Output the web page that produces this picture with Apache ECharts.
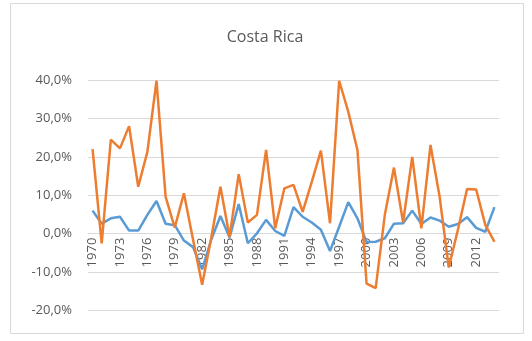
<!DOCTYPE html>
<html>
<head>
<meta charset="utf-8">
<script src="https://cdn.jsdelivr.net/npm/echarts@6/dist/echarts.min.js"></script>
<style>
  html, body { margin: 0; padding: 0; background: #fff; }
  #chart { width: 532px; height: 341px; }
</style>
</head>
<body>
<div id="chart"></div>
<script>
// Years on the category axis
const years = [];
for (let y = 1970; y <= 2014; y++) years.push(String(y));

// Annual rates (%), blue series
const blueValues = [
  6.0, 2.6, 4.0, 4.4, 0.8, 0.8, 4.9, 8.5, 2.6, 2.2,
  -1.8, -3.5, -9.3, -1.5, 4.6, -1.0, 7.7, -2.5, 0.1, 3.6,
  0.7, -0.6, 6.9, 4.4, 2.9, 1.0, -4.5, 1.8, 8.2, 4.0,
  -2.2, -2.1, -1.2, 2.6, 2.7, 6.0, 2.5, 4.2, 3.4, 1.8,
  2.5, 4.3, 1.5, 0.5, 6.9
];

// Annual rates (%), orange series
const orangeValues = [
  22.0, -2.5, 24.5, 22.2, 28.0, 12.2, 21.3, 39.8, 9.6, 1.6,
  10.5, -1.5, -13.3, -1.0, 12.2, -0.8, 15.5, 2.9, 4.9, 21.8,
  1.4, 11.8, 12.7, 5.7, 13.5, 21.6, 2.7, 39.8, 31.7, 21.8,
  -13.0, -14.2, 4.9, 17.2, 2.9, 20.0, 1.4, 23.1, 9.6, -8.8,
  1.0, 11.6, 11.5, 2.3, -2.1
];

// Value axis ticks
const yTicks = [-20, -10, 0, 10, 20, 30, 40];

const fmtPct = v => v.toFixed(1).replace('.', ',') + '%';

const gridTop = 80;
const gridBottom = 30.5;
const gridHeight = 341 - gridTop - gridBottom;
// Shift the category axis up so it sits on the 0 % line
const zeroOffset = -gridHeight * (0 - yTicks[0]) / (yTicks[yTicks.length - 1] - yTicks[0]);

const chart = echarts.init(document.getElementById('chart'), null, { renderer: 'canvas' });
chart.setOption({
  animation: false,
  backgroundColor: '#ffffff',
  title: {
    text: 'Costa Rica',
    left: 260,
    top: 24,
    textAlign: 'center',
    textStyle: {
      fontFamily: 'Open Sans',
      fontSize: 16,
      fontWeight: 'normal',
      color: '#595959'
    }
  },
  graphic: [{
    type: 'rect',
    shape: { x: 10.5, y: 3.5, width: 513, height: 330 },
    style: { fill: 'none', stroke: '#d9d9d9', lineWidth: 1 },
    silent: true
  }],
  grid: {
    left: 88, right: 33, top: gridTop, bottom: gridBottom,
    containLabel: false,
    outerBoundsMode: 'none'
  },
  xAxis: {
    type: 'category',
    data: years,
    boundaryGap: true,
    position: 'bottom',
    offset: zeroOffset,
    axisLine: { show: true, onZero: false, lineStyle: { color: '#d9d9d9' } },
    axisTick: { show: false },
    axisLabel: {
      interval: 2,
      rotate: 90,
      margin: 4,
      fontFamily: 'Open Sans',
      fontSize: 13,
      color: '#595959'
    },
    splitLine: { show: false }
  },
  yAxis: {
    type: 'value',
    min: yTicks[0],
    max: yTicks[yTicks.length - 1],
    interval: 10,
    axisLine: { show: false },
    axisTick: { show: false },
    axisLabel: {
      margin: 16,
      fontFamily: 'Open Sans',
      fontSize: 13,
      color: '#595959',
      formatter: fmtPct
    },
    splitLine: { lineStyle: { color: '#d9d9d9', width: 1 } }
  },
  series: [
    {
      type: 'line',
      data: blueValues,
      symbol: 'none',
      lineStyle: { color: '#5b9bd5', width: 2.5 },
      itemStyle: { color: '#5b9bd5' }
    },
    {
      type: 'line',
      data: orangeValues,
      symbol: 'none',
      lineStyle: { color: '#ed7d31', width: 2.5 },
      itemStyle: { color: '#ed7d31' }
    }
  ]
});
</script>
</body>
</html>
